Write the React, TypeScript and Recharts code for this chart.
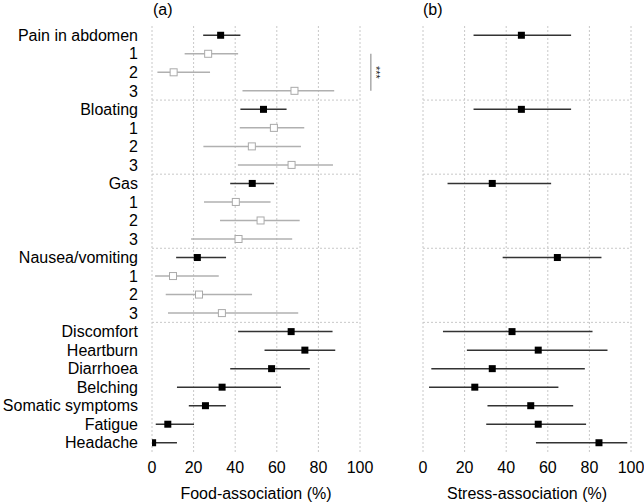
import React from 'react';
import { ScatterChart, Scatter, XAxis, YAxis, CartesianGrid, ErrorBar, ReferenceLine } from 'recharts';

// row labels, top to bottom
const rowLabels = [
  'Pain in abdomen', '1', '2', '3',
  'Bloating', '1', '2', '3',
  'Gas', '1', '2', '3',
  'Nausea/vomiting', '1', '2', '3',
  'Discomfort', 'Heartburn', 'Diarrhoea', 'Belching', 'Somatic symptoms', 'Fatigue', 'Headache',
];
// true = overall symptom (black), false = sub-group (grey)
const isMain = [
  true, false, false, false,
  true, false, false, false,
  true, false, false, false,
  true, false, false, false,
  true, true, true, true, true, true, true,
];

// (a) food association, % with 95% CI
const foodValue = [33, 27, 10.4, 68.5, 53.6, 58.6, 48, 67.1, 48.2, 40.3, 52.2, 41.6, 21.8, 10.1, 22.6, 33.6, 66.9, 73.5, 57.5, 33.7, 25.7, 7.6, 0.3];
const foodLow = [24.6, 15.7, 2.6, 43.5, 42.5, 42.2, 24.7, 41.3, 37.6, 25, 32.7, 18.8, 11.6, 1.5, 6.6, 7.7, 41.4, 54.1, 37.6, 12, 17.7, 1.8, 0];
const foodHigh = [42.5, 41.4, 27.9, 87.6, 64.7, 73.2, 71.6, 87, 58.7, 57, 71, 67.4, 35.6, 32.1, 48.1, 70.3, 86.8, 88.1, 75.9, 62, 35.5, 20.2, 12];

// (b) stress association, only overall symptoms (row index)
const stressRows = [0, 4, 8, 12, 16, 17, 18, 19, 20, 21, 22];
const stressValue = [47.3, 47.3, 33.3, 64.6, 42.8, 55.4, 33.3, 24.9, 51.8, 55.4, 84.6];
const stressLow = [24.3, 24.3, 11.8, 38.3, 9.6, 21.1, 4, 2.9, 31, 30.4, 54.3];
const stressHigh = [71.2, 71.2, 61.6, 85.8, 81.5, 88.7, 77.8, 65.1, 72.2, 78.4, 98.2];

const xTicks = [0, 20, 40, 60, 80, 100];
const rowTicks = rowLabels.map((_, i) => i);
const separators = [3.5, 7.5, 11.5, 15.5];

const foodData = foodValue.map((v, i) => ({ y: i, x: v, err: [v - foodLow[i], foodHigh[i] - v], main: isMain[i] }));
const foodMain = foodData.filter((d) => d.main);
const foodSub = foodData.filter((d) => !d.main);
const stressData = stressValue.map((v, i) => ({ y: stressRows[i], x: v, err: [v - stressLow[i], stressHigh[i] - v] }));

const FONT = '"Liberation Sans", Arial, Helvetica, sans-serif';
const gridColor = '#c8c8c8';

const FilledSquare = (p: any) => <rect x={p.cx - 3.5} y={p.cy - 3.5} width={7} height={7} fill="#000" />;
const HollowSquare = (p: any) => (
  <rect x={p.cx - 3.5} y={p.cy - 3.5} width={7} height={7} fill="#fff" stroke="#aaaaaa" strokeWidth={1} />
);

const SigLabel = (props: any) => {
  const vb = props.viewBox || {};
  const cx = vb.x + 1;
  const cy = vb.y + vb.height / 2;
  return (
    <text x={cx} y={cy} transform={`rotate(90 ${cx} ${cy})`} textAnchor="middle" fontSize={11} fill="#222" fontFamily={FONT}>
      ***
    </text>
  );
};

const Panel = ({ side }: { side: 'a' | 'b' }) => {
  const isA = side === 'a';
  return (
    <ScatterChart
      width={isA ? 400 : 264}
      height={504}
      margin={{ top: 26, right: isA ? 40 : 13, bottom: 0, left: isA ? 12 : 43 }}
      style={{ fontFamily: FONT }}
    >
      <CartesianGrid horizontal={false} strokeDasharray="2 2" stroke={gridColor} />
      <XAxis
        type="number"
        dataKey="x"
        domain={[0, 100]}
        ticks={xTicks}
        allowDataOverflow
        axisLine={false}
        tickLine={false}
        tickSize={0}
        tickMargin={10}
        height={52}
        tick={{ fontSize: 16, fill: '#000' }}
        label={{
          value: isA ? 'Food-association (%)' : 'Stress-association (%)',
          position: 'insideBottom',
          offset: 5,
          fontSize: 16,
          fill: '#000',
        }}
      />
      <YAxis
        type="number"
        dataKey="y"
        domain={[-0.5, 22.5]}
        ticks={rowTicks}
        interval={0}
        reversed
        hide={!isA}
        width={isA ? 140 : 0}
        axisLine={false}
        tickLine={false}
        tickSize={0}
        tickMargin={14}
        tickFormatter={(v: number) => rowLabels[v] ?? ''}
        tick={{ fontSize: 16, fill: '#000' }}
      />
      {separators.map((s) => (
        <ReferenceLine key={s} y={s} stroke={gridColor} strokeDasharray="2 2" />
      ))}
      {isA && (
        <ReferenceLine
          segment={[{ x: 105.2, y: 1 }, { x: 105.2, y: 3 }]}
          stroke="#aaaaaa"
          strokeWidth={1.5}
          ifOverflow="visible"
          label={<SigLabel />}
        />
      )}
      {isA && (
        <Scatter data={foodSub} isAnimationActive={false} shape={<HollowSquare />}>
          <ErrorBar dataKey="err" direction="x" width={0} stroke="#b0b0b0" strokeWidth={1.5} />
        </Scatter>
      )}
      <Scatter data={isA ? foodMain : stressData} isAnimationActive={false} shape={<FilledSquare />}>
        <ErrorBar dataKey="err" direction="x" width={0} stroke="#333" strokeWidth={1.5} />
      </Scatter>
    </ScatterChart>
  );
};

const App: React.FC = () => {
  return (
    <div style={{ position: 'absolute', left: 0, top: 0, width: 644, height: 504, background: '#fff', fontFamily: FONT }}>
      <div style={{ position: 'absolute', left: 0, top: 0 }}>
        <Panel side="a" />
      </div>
      <div style={{ position: 'absolute', left: 380, top: 0 }}>
        <Panel side="b" />
      </div>
      <div style={{ position: 'absolute', left: 153, top: 1, fontSize: 16, color: '#000' }}>(a)</div>
      <div style={{ position: 'absolute', left: 423, top: 1, fontSize: 16, color: '#000' }}>(b)</div>
    </div>
  );
};

export default App;
